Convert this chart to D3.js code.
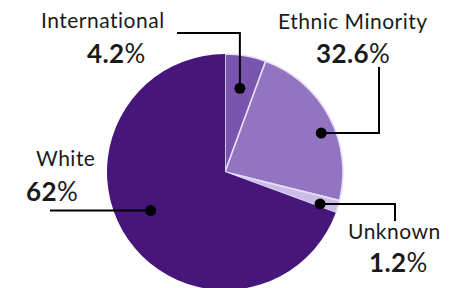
<!DOCTYPE html>
<html>
<head>
<meta charset="utf-8">
<script src="https://cdn.jsdelivr.net/npm/d3@7"></script>
<style>
  body { margin: 0; background: #fff; }
  text { font-family: Lato, "Open Sans", sans-serif; fill: #1a1a1a; }
  .name { font-size: 21px; letter-spacing: 0.5px; }
  .pct { font-size: 26px; font-weight: 700; letter-spacing: 0.4px; }
  .pct .sign { font-weight: 400; }
</style>
</head>
<body>
<script>
// groups as listed in the picture, clockwise from 12 o'clock
const groups = ['International', 'Ethnic Minority', 'Unknown', 'White']
// printed percentages
const percents = ['4.2', '32.6', '1.2', '62']
// slice sizes as drawn in the picture (share of the full circle)
const drawnShare = [5.6, 23.3, 1.7, 69.4]
const colors = ['#7a55b0', '#9274c0', '#cbbbe8', '#47167a']

const width = 472, height = 288
const cx = 225, cy = 172, radius = 118

const svg = d3.select('body').append('svg')
    .attr('width', width)
    .attr('height', height)

/** build pie from drawn shares, keep original order */
const pie = d3.pie().sort(null).value(d => d.share)
const slices = pie(groups.map((g, i) => ({name: g, share: drawnShare[i], pct: percents[i], color: colors[i]})))

const arc = d3.arc().innerRadius(0).outerRadius(radius)

const pieG = svg.append('g').attr('transform', `translate(${cx},${cy})`)

pieG.selectAll('path')
    .data(slices)
    .enter().append('path')
    .attr('d', arc)
    .attr('fill', d => d.data.color)
    .attr('stroke', d => d.index == 3 ? 'none' : '#e6dcf5')
    .attr('stroke-width', 1.6)
    .attr('stroke-linejoin', 'round')

// leader layout per slice: where the dot sits inside the slice (t along angle, r of radius),
// the elbow / end point, and label positions
const leaders = [
    {t: 0.5, r: 0.72, end: [177, 33], name: [41, 28], pct: [87, 63]},
    {t: 0.57, r: 0.88, end: [379, 67], name: [278, 29], pct: [316, 63]},
    {t: 0.74, r: 0.85, end: [395, 221], name: [348, 239], pct: [369, 272]},
    {t: 0.53, r: 0.71, end: [50, null], name: [36, 166], pct: [26, 201]}
]

function dotPos(d, i) {
    let a = d.startAngle + (d.endAngle - d.startAngle) * leaders[i].t
    let rr = radius * leaders[i].r
    return [cx + Math.sin(a) * rr, cy - Math.cos(a) * rr]
}

const labelG = svg.append('g')

slices.forEach((d, i) => {
    let p = dotPos(d, i)
    let L = leaders[i]
    let path
    if (i == 0) path = [p, [p[0], L.end[1]], L.end]          // up, then left
    else if (i == 3) path = [p, [L.end[0], p[1]]]           // straight left
    else path = [p, [L.end[0], p[1]], L.end]                 // right, then up/down

    labelG.append('path')
        .attr('d', d3.line()(path))
        .attr('fill', 'none')
        .attr('stroke', '#000')
        .attr('stroke-width', 2)

    labelG.append('circle')
        .attr('cx', p[0]).attr('cy', p[1])
        .attr('r', 5.5)
        .attr('fill', '#000')

    labelG.append('text')
        .attr('class', 'name')
        .attr('x', L.name[0]).attr('y', L.name[1])
        .text(d.data.name)

    let t = labelG.append('text')
        .attr('class', 'pct')
        .attr('x', L.pct[0]).attr('y', L.pct[1])
    t.append('tspan').text(d.data.pct)
    t.append('tspan').attr('class', 'sign').text('%')
})
</script>
</body>
</html>
